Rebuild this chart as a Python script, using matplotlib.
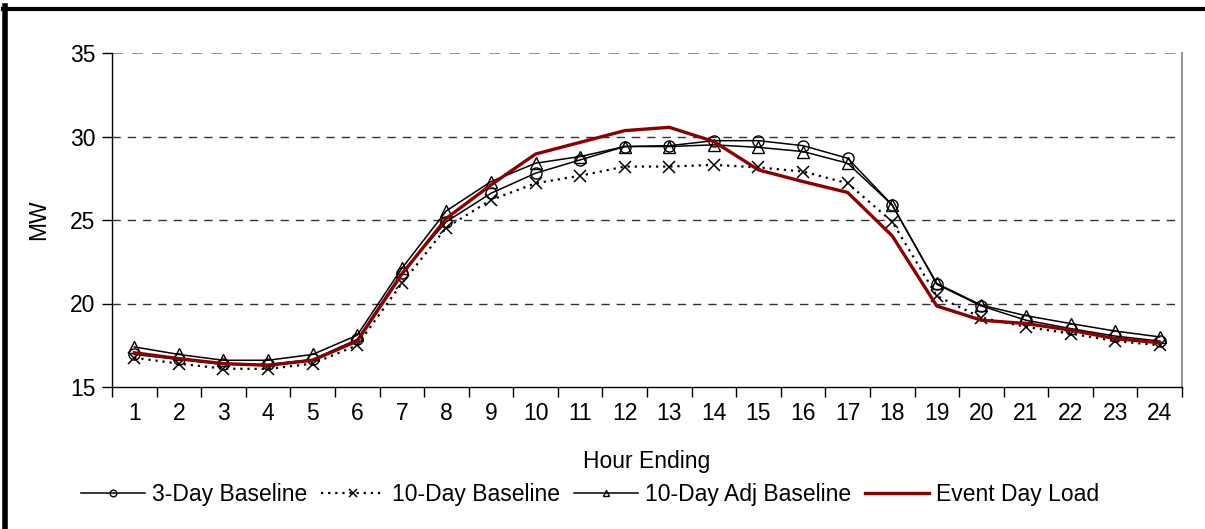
import matplotlib.pyplot as plt
from matplotlib.lines import Line2D

plt.rcParams['font.family'] = ['Liberation Sans', 'DejaVu Sans']

hours = list(range(1, 25))
three_day = [16.95, 16.65, 16.35, 16.35, 16.65, 17.85, 21.85, 24.9, 26.6, 27.8, 28.6, 29.4,
             29.45, 29.75, 29.75, 29.45, 28.7, 25.9, 21.15, 19.85, 19.0, 18.5, 18.05, 17.75]
ten_day = [16.75, 16.4, 16.1, 16.08, 16.4, 17.5, 21.2, 24.55, 26.2, 27.2, 27.65, 28.2,
           28.2, 28.3, 28.15, 27.9, 27.2, 24.9, 20.45, 19.15, 18.6, 18.2, 17.75, 17.5]
ten_day_adj = [17.4, 16.95, 16.6, 16.6, 16.95, 18.1, 22.1, 25.55, 27.3, 28.4, 28.8, 29.4,
               29.4, 29.5, 29.35, 29.1, 28.4, 25.9, 21.2, 19.9, 19.27, 18.8, 18.35, 18.0]
event_day = [17.05, 16.7, 16.4, 16.3, 16.6, 17.75, 21.75, 25.1, 27.1, 28.95, 29.65, 30.35,
             30.55, 29.7, 28.0, 27.3, 26.65, 24.05, 19.85, 19.0, 18.8, 18.4, 17.9, 17.65]

FS = 16.5

fig = plt.figure(figsize=(12.05, 5.29), dpi=100)
ax = fig.add_axes([112 / 1205, 1 - 387 / 529, 1070 / 1205, 334 / 529])

ax.plot(hours, three_day, color='black', lw=1.1, marker='o', ms=8, mfc='none', mec='black',
        mew=1.0, label='3-Day Baseline', zorder=3)
ax.plot(hours, ten_day, color='black', lw=1.6, ls=(0, (1, 2.2)), marker='x', ms=8.5, mec='black',
        mew=1.1, label='10-Day Baseline', zorder=3)
ax.plot(hours, ten_day_adj, color='black', lw=1.1, marker='^', ms=8, mfc='none', mec='black',
        mew=1.0, label='10-Day Adj Baseline', zorder=3)
ax.plot(hours, event_day, color='#8b0000', lw=2.4, label='Event Day Load', zorder=4)

ax.set_xlim(0.5, 24.5)
ax.set_ylim(15, 35)
ax.set_yticks([15, 20, 25, 30, 35])
ax.set_xticks(hours)
ax.set_xticks([h + 0.5 for h in range(0, 25)], minor=True)
ax.tick_params(axis='x', which='major', length=0, labelsize=FS, pad=11)
ax.tick_params(axis='x', which='minor', length=7, width=1, direction='out')
ax.tick_params(axis='y', length=7, width=1, labelsize=FS, pad=5)

for y in [20, 25, 30]:
    ax.axhline(y, color='#333333', lw=1, ls=(0, (6, 5)), zorder=1)
ax.axhline(35, color='#888888', lw=1.3, ls=(0, (6, 5)), zorder=1)

ax.spines['top'].set_visible(False)
ax.spines['right'].set_color('#888888')
ax.spines['right'].set_linewidth(1.3)
ax.spines['left'].set_linewidth(1)
ax.spines['bottom'].set_linewidth(1)

ax.set_xlabel('Hour Ending', fontsize=FS, labelpad=18)
ax.set_ylabel('MW', fontsize=FS, labelpad=14)

fig.legend(*ax.get_legend_handles_labels(), loc='center', bbox_to_anchor=(590 / 1205, 1 - 495 / 529),
           ncol=4, frameon=False, fontsize=FS, handlelength=2.8, handletextpad=0.3,
           columnspacing=0.6, markerscale=0.6)

# outer frame edges
fig.add_artist(Line2D([5 / 1205, 5 / 1205], [0, 1 - 6 / 529], color='black', lw=4))
fig.add_artist(Line2D([3 / 1205, 1], [1 - 8.5 / 529, 1 - 8.5 / 529], color='black', lw=3))

fig.savefig('out.png', dpi=100)
